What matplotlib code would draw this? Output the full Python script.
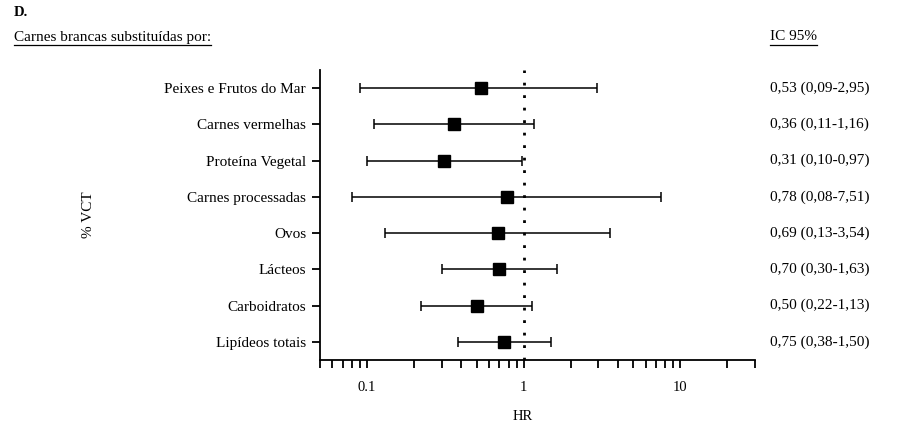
import matplotlib
matplotlib.use("Agg")
import matplotlib.pyplot as plt
import matplotlib.transforms as mtransforms
from matplotlib.ticker import LogLocator, NullFormatter, FixedLocator, FixedFormatter

categories = ["Peixes e Frutos do Mar", "Carnes vermelhas", "Proteína Vegetal",
              "Carnes processadas", "Ovos", "Lácteos", "Carboidratos", "Lipídeos totais"]
hr = [0.53, 0.36, 0.31, 0.78, 0.69, 0.70, 0.50, 0.75]
lower = [0.09, 0.11, 0.10, 0.08, 0.13, 0.30, 0.22, 0.38]
upper = [2.95, 1.16, 0.97, 7.51, 3.54, 1.63, 1.13, 1.50]
ci_labels = ["0,53 (0,09-2,95)", "0,36 (0,11-1,16)", "0,31 (0,10-0,97)", "0,78 (0,08-7,51)",
             "0,69 (0,13-3,54)", "0,70 (0,30-1,63)", "0,50 (0,22-1,13)", "0,75 (0,38-1,50)"]
xticks = [0.1, 1, 10]
xticklabels = ["0.1", "1", "10"]

plt.rcParams['font.family'] = ['Liberation Serif', 'DejaVu Serif']

fig = plt.figure(figsize=(9.24, 4.26), dpi=100)
ax = fig.add_axes([0.3463, 0.1549, 0.4708, 0.6808])

n = len(categories)
ypos = [n - 1 - i for i in range(n)]
xerr = [[h - l for h, l in zip(hr, lower)], [u - h for h, u in zip(hr, upper)]]
ax.errorbar(hr, ypos, xerr=xerr, fmt='s', color='black', ms=8, ecolor='black',
            elinewidth=1.1, capsize=3.5, capthick=1.1, zorder=3)
ax.axvline(1, color='black', linestyle=(0, (1, 3.5)), linewidth=2, zorder=2)

ax.set_xscale('log')
ax.set_xlim(0.05, 30)
ax.set_ylim(-0.5, n - 0.5)
ax.xaxis.set_major_locator(FixedLocator(xticks))
ax.xaxis.set_major_formatter(FixedFormatter(xticklabels))
ax.xaxis.set_minor_locator(LogLocator(base=10, subs=range(2, 10)))
ax.xaxis.set_minor_formatter(NullFormatter())
ax.set_yticks(ypos)
ax.set_yticklabels(categories, fontsize=11)
ax.tick_params(axis='x', which='major', length=6, width=1.3, labelsize=10.5, pad=9)
ax.tick_params(axis='x', which='minor', length=6, width=1.3)
ax.tick_params(axis='y', length=6, width=1.3, pad=4)
for s in ['top', 'right']:
    ax.spines[s].set_visible(False)
for s in ['left', 'bottom']:
    ax.spines[s].set_linewidth(1.3)

fig.text(523 / 924, 1 - 417 / 426, "HR", fontsize=10.5, ha='center', va='center')
fig.text(88 / 924, 1 - 215 / 426, "% VCT", rotation=90, ha='center', va='center', fontsize=11)

trans = mtransforms.blended_transform_factory(fig.transFigure, ax.transData)
for y, lab in zip(ypos, ci_labels):
    ax.text(770 / 924, y, lab, transform=trans, ha='left', va='center', fontsize=11, clip_on=False)

fig.text(14 / 924, 1 - 12 / 426, "D.", fontsize=10.5, fontweight='bold', ha='left', va='center')
t1 = fig.text(14 / 924, 1 - 37 / 426, "Carnes brancas substituídas por:", fontsize=11,
              ha='left', va='center')
t2 = fig.text(770 / 924, 1 - 37 / 426, "IC 95%", fontsize=11, ha='left', va='center')

fig.canvas.draw()
renderer = fig.canvas.get_renderer()
for t in (t1, t2):
    bb = t.get_window_extent(renderer).transformed(fig.transFigure.inverted())
    fig.lines.append(plt.Line2D([bb.x0, bb.x1], [1 - 45 / 426, 1 - 45 / 426],
                                transform=fig.transFigure, color='black', linewidth=0.9))

fig.savefig("out.png", dpi=100)
